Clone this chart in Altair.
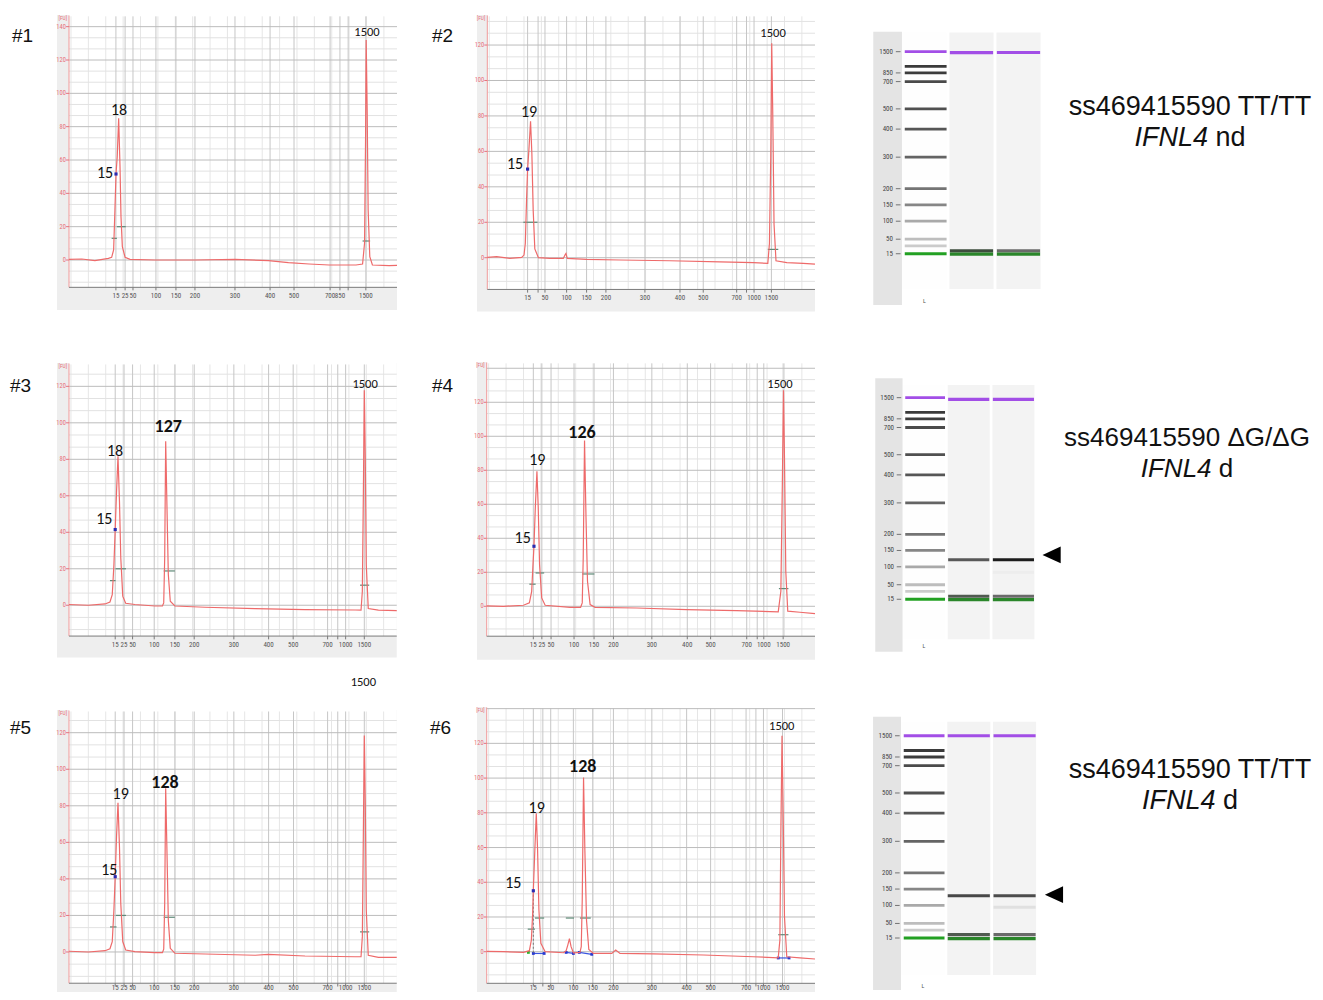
import altair as alt
import numpy as np
import pandas as pd

# ------------------------------------------------------------------
# Electropherogram traces: migration time (arbitrary units, 0-100 across
# the plot) and fluorescence [FU]
# ------------------------------------------------------------------
P1_TIME = [0, 3.9, 7.9, 12.0, 13.0, 13.6, 14.0, 14.33, 14.7, 15.14, 15.55, 15.85, 16.26, 17.1, 18.6, 26.2,
           38.4, 50.6, 60.8, 66.9, 73.2, 79.3, 87.5, 89.5, 90.1, 90.4, 90.6, 90.9, 91.2, 91.7, 92.5, 97.6, 100]
P1_FU = [0.4, 0.6, -0.4, 1.0, 1.6, 6, 30, 51.6, 62, 85, 56, 26, 8, 1.6, 0.4, 0,
         0, 0.4, -0.4, -1.6, -2.4, -3, -3, -2.4, 10, 70, 132, 90, 30, 2, -3, -3.4, -3.2]

P2_TIME = [0, 2.85, 6.9, 10.5, 11.2, 11.6, 12.0, 12.3, 12.7, 13.2, 13.6, 14.0, 14.5, 15.6, 19.1, 23.2, 23.7,
           24.0, 24.4, 30.3, 40.5, 55.7, 71.0, 81.2, 85.6, 86.1, 86.5, 86.8, 87.1, 87.5, 88.1, 91.4, 96.4, 100]
P2_FU = [0.2, 0.6, -0.4, 0.2, 1.5, 8, 34, 50, 61, 77, 59, 27, 5, 0, -0.4, -0.4, 1.5,
         2.4, -0.4, -0.9, -1.3, -1.7, -2.4, -2.8, -3.2, 8, 57, 121, 83, 19, -1.7, -2.8, -3.2, -3.6]

P3_TIME = [0, 5.9, 11.0, 12.5, 13.2, 13.7, 14.1, 14.5, 14.95, 15.4, 15.8, 16.4, 17.3, 20.1, 26.2, 28.5, 28.9,
           29.2, 29.5, 29.9, 30.3, 30.9, 32.3, 41.5, 56.8, 72.0, 87.3, 89.1, 89.5, 89.8, 90.1, 90.4, 90.7,
           91.3, 94.4, 100]
P3_FU = [0.4, 0, 0.7, 1.8, 5.8, 22, 41.5, 62, 81.6, 57, 26, 5, 1.1, 0.4, -0.4, -0.4, 1.3,
         26, 89.9, 53, 17, 2.2, -0.4, -1.1, -1.8, -2.4, -2.6, -2.7, 7.7, 58.8, 117.8, 80.7, 22.3,
         -1.8, -2.7, -2.9]

P4_TIME = [0, 5.1, 11.2, 13.0, 13.7, 14.1, 14.4, 14.8, 15.3, 15.7, 16.1, 16.75, 17.8, 25.4, 28.6, 29.1, 29.4,
           29.8, 30.25, 30.7, 31.5, 33.0, 45.7, 60.9, 76.1, 88.8, 89.6, 90.05, 90.4, 90.7, 91.1, 91.7, 95.4, 100]
P4_FU = [0.2, 0, 0.6, 2, 8.8, 24.5, 35.3, 57.8, 79.4, 57.8, 24.5, 4.9, 0.6, -0.6, -0.6, 2, 28.4,
         97.5, 52, 14.7, 1, -0.6, -1, -2, -2.5, -3.3, 8.8, 71.6, 127, 87.3, 20.6, -2.9, -3.5, -4.3]

P5_TIME = [0, 5.9, 11.0, 12.5, 13.2, 13.7, 14.1, 14.5, 14.95, 15.4, 15.8, 16.4, 17.3, 20.1, 26.2, 28.5, 28.9,
           29.2, 29.5, 29.9, 30.3, 30.9, 32.3, 41.5, 56.8, 60.8, 72.0, 87.3, 89.1, 89.5, 89.8, 90.1, 90.4,
           90.7, 91.3, 94.4, 100]
P5_FU = [0.4, 0, 0.7, 1.8, 5.7, 23, 41.2, 63, 81.7, 57.6, 26.6, 5.7, 1.1, 0.2, -0.4, -0.4, 1.5,
         26.6, 89.6, 54, 17.5, 2, -0.7, -1.1, -1.8, -1.3, -2.2, -2.6, -2.6, 8.4, 63, 118.4, 81.3,
         23, -1.8, -2.9, -2.9]

P6_TIME = [0, 5.1, 11.2, 13.0, 13.6, 14.0, 14.2, 14.7, 15.1, 15.5, 15.9, 16.5, 17.8, 23.4, 24.2, 24.7, 25.2,
           25.7, 26.4, 28.4, 28.8, 29.1, 29.5, 29.9, 30.4, 31.1, 32.5, 38.1, 39.3, 40.6, 50.8, 66.0, 81.2,
           88.8, 89.3, 89.6, 89.95, 90.25, 90.7, 91.4, 95.4, 100]
P6_FU = [0.2, 0, -0.4, 0.6, 6.7, 22, 35.1, 60.5, 79.7, 58.6, 24, 4.8, 0, -0.6, 0.6, 3.8, 7.5,
         2.9, -0.6, -0.4, 2.9, 29.8, 100.4, 58.6, 18.2, 1.3, -1, -1, 1, -1, -1.3, -1.9, -2.9,
         -3.5, 6.7, 68.2, 124.4, 87.4, 20.2, -2.9, -3.5, -4.2]

# x-axis size ticks (bp) at their migration times
P1_TICK_T = [14.3, 17.1, 19.5, 26.5, 32.6, 38.4, 50.6, 61.3, 68.6, 79.6, 82.6, 85.1, 90.5]
P1_TICK_LAB = ["15", "25", "50", "100", "150", "200", "300", "400", "500", "700", "850", "", "1500"]
P2_TICK_T = [12.3, 15.5, 17.6, 24.2, 30.3, 36.2, 48.1, 58.8, 65.9, 76.1, 79.1, 81.4, 86.7]
P2_TICK_LAB = ["15", "", "50", "100", "150", "200", "300", "400", "500", "700", "", "1000", "1500"]
P3_TICK_T = [14.1, 16.8, 19.4, 26.0, 32.3, 38.2, 50.3, 60.9, 68.4, 78.9, 82.0, 84.4, 90.1]
P3_TICK_LAB = ["15", "25", "50", "100", "150", "200", "300", "400", "500", "700", "", "1000", "1500"]
P4_TICK_T = [14.2, 16.8, 19.6, 26.6, 32.7, 38.6, 50.3, 61.1, 68.2, 79.2, 82.4, 84.4, 90.3]
P4_TICK_LAB = ["15", "25", "50", "100", "150", "200", "300", "400", "500", "700", "", "1000", "1500"]
P5_TICK_T = [14.1, 16.8, 19.4, 26.0, 32.3, 38.2, 50.3, 60.9, 68.5, 78.9, 82.0, 84.4, 90.1]
P5_TICK_LAB = ["15", "25", "50", "100", "150", "200", "300", "400", "500", "700", "", "1000", "1500"]
P6_TICK_T = [14.2, 17.1, 19.5, 26.4, 32.3, 38.6, 50.3, 60.9, 68.2, 79.0, 82.0, 84.3, 90.1]
P6_TICK_LAB = ["15", "", "50", "100", "150", "200", "300", "400", "500", "700", "", "1000", "1500"]

# peak annotations: text, time, FU, kind
P1_PEAK_TEXT = ["15", "18", "1500"]
P1_PEAK_T = [10.98, 15.24, 90.85]
P1_PEAK_FU = [52.2, 90.0, 136.8]
P1_PEAK_KIND = ["peak", "peak", "ref"]
P2_PEAK_TEXT = ["15", "19", "1500"]
P2_PEAK_T = [8.45, 12.73, 87.2]
P2_PEAK_FU = [52.9, 82.2, 126.8]
P2_PEAK_KIND = ["peak", "peak", "ref"]
P3_PEAK_TEXT = ["15", "18", "127", "1500"]
P3_PEAK_T = [10.77, 14.04, 30.3, 90.33]
P3_PEAK_FU = [47.3, 84.5, 97.7, 121.3]
P3_PEAK_KIND = ["peak", "peak", "bold", "ref"]
P4_PEAK_TEXT = ["15", "19", "126", "1500"]
P4_PEAK_T = [10.97, 15.41, 29.03, 89.34]
P4_PEAK_FU = [40.2, 85.9, 101.9, 130.8]
P4_PEAK_KIND = ["peak", "peak", "bold", "ref"]
P5_PEAK_TEXT = ["15", "19", "128", "1500"]
P5_PEAK_T = [12.3, 15.78, 29.3, 89.8]
P5_PEAK_FU = [44.9, 86.3, 92.3, 147.6]
P5_PEAK_KIND = ["peak", "peak", "bold", "ref"]
P6_PEAK_TEXT = ["15", "19", "128", "1500"]
P6_PEAK_T = [8.1, 15.23, 29.24, 89.86]
P6_PEAK_FU = [39.4, 82.6, 106.6, 130.2]
P6_PEAK_KIND = ["peak", "peak", "bold", "ref"]

# lower-marker (15 bp) points
MARKER_T = [14.33, 12.3, 14.1, 14.4, 14.1, 14.2]
MARKER_FU = [51.6, 50.0, 41.5, 35.3, 41.2, 35.1]

# peak-width (half height) bars: start, end, FU
P1_HALF = ([13.0, 14.6, 89.5], [14.6, 17.3, 91.8], [13, 20, 11.4])
P2_HALF = ([11.0, 85.6], [15.3, 88.8], [20, 4.7])
P3_HALF = ([12.5, 14.2, 28.9, 88.8], [14.2, 17.4, 32.3, 91.6], [13.5, 20, 18.8, 11])
P4_HALF = ([13.0, 14.9, 29.1, 89.0], [14.9, 17.5, 32.8, 91.9], [13, 19.6, 19, 10.4])
P5_HALF = ([12.5, 14.3, 28.9, 88.8], [14.5, 17.4, 32.3, 91.6], [13.7, 20, 19, 11])
P6_HALF = ([12.5, 14.7, 24.1, 28.4, 88.8], [14.7, 17.5, 26.6, 31.7, 91.9], [13, 19.4, 19.4, 19.4, 9.8])

# panel #6 integration baselines
P6_BASE_T0 = [14.2, 24.2, 28.2, 88.8]
P6_BASE_T1 = [17.5, 26.4, 32.0, 92.1]
P6_BASE_F0 = [-1.0, -0.4, -0.4, -3.6]
P6_BASE_F1 = [-1.0, -1.0, -1.5, -3.6]

# ------------------------------------------------------------------
# Gel images: ladder sizes and migration (0 = 1500 bp marker, 100 = 15 bp marker)
# ------------------------------------------------------------------
LADDER_SIZE = [1500, 1000, 850, 700, 500, 400, 300, 200, 150, 100, 50, 25, 15]
LADDER_MIGRATION = [0.0, 7.3, 10.5, 14.8, 28.3, 38.3, 52.2, 67.8, 75.8, 83.9, 92.8, 96.1, 100.0]
LADDER_TEXT = ["1500", "", "850", "700", "500", "400", "300", "200", "150", "100", "50", "", "15"]
LADDER_SHADE = ["#a24ee6", "#3a3a3a", "#3c3c3c", "#4a4a4a", "#505050", "#565656", "#646464",
                "#747474", "#868686", "#a9a9a9", "#bdbdbd", "#cbcbcb", "#22a022"]

G1_LANE = [2, 2, 2, 3, 3, 3]
G1_MIGRATION = [0.5, 98.6, 100.2, 0.4, 98.6, 100.2]
G1_SHADE = ["#a24ee6", "#3d4d3d", "#2a862a", "#a24ee6", "#6a6a6a", "#2a862a"]
G2_LANE = [2, 2, 2, 2, 3, 3, 3, 3, 3]
G2_MIGRATION = [0.8, 80.4, 98.5, 100.2, 0.8, 80.4, 86.6, 98.5, 100.2]
G2_SHADE = ["#a24ee6", "#585858", "#505a50", "#2a862a", "#a24ee6", "#1c1c1c", "#ededed", "#6a6a6a", "#2a862a"]
G3_LANE = [2, 2, 2, 2, 3, 3, 3, 3, 3]
G3_MIGRATION = [0.0, 79.1, 98.3, 100.3, 0.0, 79.1, 84.8, 98.3, 100.3]
G3_SHADE = ["#a24ee6", "#474747", "#505a50", "#2a862a", "#a24ee6", "#4c4c4c", "#e0e0e0", "#6a6a6a", "#2a862a"]

GENOTYPE = ["ss469415590 TT/TT", "ss469415590 \u0394G/\u0394G", "ss469415590 TT/TT"]
GENE = "IFNL4"
STATUS = ["nd", "d", "d"]

# ------------------------------------------------------------------
# styling / layout
# ------------------------------------------------------------------
TRACE = "#ee6a6a"
RED = "#e8707a"
NARROW = "Liberation Sans Narrow, Arial Narrow, Roboto Condensed, Liberation Sans"
LABF = "Carlito, Liberation Sans Narrow, Roboto"
SANS = "Liberation Sans, Arial"

COL_W = [394, 420, 230, 263]
ROW_H = [330, 330, 324]

PANELS = [
    dict(name="#1", time=P1_TIME, fu=P1_FU, tick_t=P1_TICK_T, tick_lab=P1_TICK_LAB,
         ptext=P1_PEAK_TEXT, pt=P1_PEAK_T, pf=P1_PEAK_FU, pk=P1_PEAK_KIND, half=P1_HALF,
         tdom=(-18.6, 101.52), fdom=(-46.8, 151.2), box_t0=-3.66, box_f0=-30.0, box_f1=147.0,
         xaxis=-16.4, ymax=140, lab=(4, 28), tdy=9),
    dict(name="#2", time=P2_TIME, fu=P2_FU, tick_t=P2_TICK_T, tick_lab=P2_TICK_LAB,
         ptext=P2_PEAK_TEXT, pt=P2_PEAK_T, pf=P2_PEAK_FU, pk=P2_PEAK_KIND, half=P2_HALF,
         tdom=(-26.03, 102.14), fdom=(-45.3, 140.9), box_t0=-3.14, box_f0=-30.3, box_f1=137.0,
         xaxis=-17.9, ymax=120, lab=(30, 28), tdy=9),
    dict(name="#3", time=P3_TIME, fu=P3_FU, tick_t=P3_TICK_T, tick_lab=P3_TICK_LAB,
         ptext=P3_PEAK_TEXT, pt=P3_PEAK_T, pf=P3_PEAK_FU, pk=P3_PEAK_KIND, half=P3_HALF,
         tdom=(-18.61, 101.6), fdom=(-34.4, 146.5), box_t0=-3.66, box_f0=-28.7, box_f1=132.8,
         xaxis=-16.9, ymax=120, lab=(2, 48), tdy=9),
    dict(name="#4", time=P4_TIME, fu=P4_FU, tick_t=P4_TICK_T, tick_lab=P4_TICK_LAB,
         ptext=P4_PEAK_TEXT, pt=P4_PEAK_T, pf=P4_PEAK_FU, pk=P4_PEAK_KIND, half=P4_HALF,
         tdom=(-25.8, 102.13), fdom=(-36.3, 157.8), box_t0=-2.95, box_f0=-31.4, box_f1=143.7,
         xaxis=-17.6, ymax=120, lab=(30, 48), tdy=9),
    dict(name="#5", time=P5_TIME, fu=P5_FU, tick_t=P5_TICK_T, tick_lab=P5_TICK_LAB,
         ptext=P5_PEAK_TEXT, pt=P5_PEAK_T, pf=P5_PEAK_FU, pk=P5_PEAK_KIND, half=P5_HALF,
         tdom=(-18.61, 101.6), fdom=(-21.9, 155.4), box_t0=-3.66, box_f0=-21.9, box_f1=132.4,
         xaxis=-17.1, ymax=120, lab=(2, 60), tdy=5),
    dict(name="#6", time=P6_TIME, fu=P6_FU, tick_t=P6_TICK_T, tick_lab=P6_TICK_LAB,
         ptext=P6_PEAK_TEXT, pt=P6_PEAK_T, pf=P6_PEAK_FU, pk=P6_PEAK_KIND, half=P6_HALF,
         tdom=(-25.8, 102.13), fdom=(-23.2, 163.4), box_t0=-2.95, box_f0=-23.2, box_f1=141.0,
         xaxis=-18.2, ymax=120, lab=(28, 60), tdy=5),
]

GELS = [
    dict(lane=G1_LANE, mig=G1_MIGRATION, shade=G1_SHADE, xdom=(-1.181, 3.713), ydom=(-21.63, 141.7),
         lanes=(-9.5, 117.5), strip=(-9.9, 125.4), ly=123.4, arrow=None),
    dict(lane=G2_LANE, mig=G2_MIGRATION, shade=G2_SHADE, xdom=(-1.282, 3.863), ydom=(-29.6, 134.1),
         lanes=(-6.3, 119.8), strip=(-9.6, 126.0), ly=123.2, arrow=(3.854, 78.0)),
    dict(lane=G3_LANE, mig=G3_MIGRATION, shade=G3_SHADE, xdom=(-1.205, 3.817), ydom=(-33.5, 126.7),
         lanes=(-6.9, 118.3), strip=(-9.4, 125.7), ly=123.7, arrow=(3.86, 78.6)),
]

TEXT_POS = [(138, 99), (135, 100), (138, 102)]
TEXT_SIZE = [27, 26, 27]


def ephero(idx, w, h):
    p = PANELS[idx]
    xs = alt.Scale(domain=list(p["tdom"]), nice=False, zero=False)
    ys = alt.Scale(domain=list(p["fdom"]), nice=False, zero=False)

    def X(f):
        return alt.X(f, type="quantitative", scale=xs, axis=None)

    def Y(f):
        return alt.Y(f, type="quantitative", scale=ys, axis=None)

    top = p["box_f1"] - 0.8
    xa = p["xaxis"]
    layers = []

    box = pd.DataFrame({"t0": [p["box_t0"]], "t1": [100.0], "f0": [p["box_f0"]], "f1": [p["box_f1"]]})
    layers.append(alt.Chart(box).mark_rect(color="#eeeeee").encode(x=X("t0"), x2="t1", y=Y("f0"), y2="f1"))
    area = pd.DataFrame({"t0": [0.0], "t1": [100.0], "f0": [xa], "f1": [p["box_f1"]]})
    layers.append(alt.Chart(area).mark_rect(color="#ffffff").encode(x=X("t0"), x2="t1", y=Y("f0"), y2="f1"))

    minor_h = [k * 20.0 / 3 for k in range(-3, 30) if k % 3 != 0 and xa < k * 20.0 / 3 < top]
    major_h = [v for v in range(0, 200, 20) if v < top]
    minor_v = [v for v in np.arange(0.6, 100, 5.3)]
    gh1 = pd.DataFrame({"f": minor_h, "t0": 0.0, "t1": 100.0})
    gh2 = pd.DataFrame({"f": major_h, "t0": 0.0, "t1": 100.0})
    gv1 = pd.DataFrame({"t": minor_v, "f0": xa, "f1": top})
    gv2 = pd.DataFrame({"t": p["tick_t"], "f0": xa, "f1": top})
    layers.append(alt.Chart(gv1).mark_rule(color="#e6e6e6", strokeWidth=1).encode(x=X("t"), y=Y("f0"), y2="f1"))
    layers.append(alt.Chart(gh1).mark_rule(color="#e2e2e2", strokeWidth=1).encode(x=X("t0"), x2="t1", y=Y("f")))
    layers.append(alt.Chart(gv2).mark_rule(color="#c6c6c6", strokeWidth=1).encode(x=X("t"), y=Y("f0"), y2="f1"))
    layers.append(alt.Chart(gh2).mark_rule(color="#bcbcbc", strokeWidth=1).encode(x=X("t0"), x2="t1", y=Y("f")))

    # axis lines
    ya = pd.DataFrame({"t": [0.0], "f0": [xa], "f1": [p["box_f1"] - 0.3]})
    layers.append(alt.Chart(ya).mark_rule(color="#f09a9a", strokeWidth=1).encode(x=X("t"), y=Y("f0"), y2="f1"))
    xl = pd.DataFrame({"t0": [0.0], "t1": [100.0], "f": [xa]})
    layers.append(alt.Chart(xl).mark_rule(color="#7a7a7a", strokeWidth=1).encode(x=X("t0"), x2="t1", y=Y("f")))

    # y ticks + labels
    yv = list(range(0, p["ymax"] + 1, 20))
    ydf = pd.DataFrame({"f": yv, "lab": [str(v) for v in yv], "t0": -0.9, "t1": 0.0})
    layers.append(alt.Chart(ydf).mark_rule(color=RED, strokeWidth=1).encode(x=X("t0"), x2="t1", y=Y("f")))
    layers.append(alt.Chart(ydf).mark_text(align="right", baseline="middle", dx=-3, fontSize=6.5,
                                           font=NARROW, color=RED)
                  .encode(x=X("t1"), y=Y("f"), text="lab:N"))
    fu_df = pd.DataFrame({"t": [-1.9], "f": [p["box_f1"]], "lab": ["[FU]"]})
    layers.append(alt.Chart(fu_df).mark_text(align="center", baseline="top", dy=1, fontSize=5.5,
                                             font=NARROW, color=RED)
                  .encode(x=X("t"), y=Y("f"), text="lab:N"))

    # x ticks + labels
    xdf = pd.DataFrame({"t": p["tick_t"], "lab": p["tick_lab"], "f0": xa, "f1": xa - 1.8})
    layers.append(alt.Chart(xdf).mark_rule(color="#7a7a7a", strokeWidth=1).encode(x=X("t"), y=Y("f0"), y2="f1"))
    layers.append(alt.Chart(xdf).mark_text(align="center", baseline="middle", dy=p["tdy"], fontSize=7,
                                           font=NARROW, color="#555555")
                  .encode(x=X("t"), y=Y("f0"), text="lab:N"))

    # half-height bars
    hd = pd.DataFrame({"t0": p["half"][0], "t1": p["half"][1], "f": p["half"][2]})
    layers.append(alt.Chart(hd).mark_rule(color="#5f8a78", strokeWidth=1.2).encode(x=X("t0"), x2="t1", y=Y("f")))

    if idx == 5:
        bd = pd.DataFrame({"t0": P6_BASE_T0, "t1": P6_BASE_T1, "f0": P6_BASE_F0, "f1": P6_BASE_F1})
        layers.append(alt.Chart(bd).mark_rule(color="#3a55e0", strokeWidth=1.2)
                      .encode(x=X("t0"), x2="t1", y=Y("f0"), y2="f1"))
        ends = pd.DataFrame({"t": P6_BASE_T0 + P6_BASE_T1, "f": P6_BASE_F0 + P6_BASE_F1})
        layers.append(alt.Chart(ends).mark_point(shape="square", filled=True, size=8, color="#2a3ad0", opacity=1)
                      .encode(x=X("t"), y=Y("f")))
        dv = pd.DataFrame({"t": [MARKER_T[5]], "f0": [MARKER_FU[5]], "f1": [-1.0]})
        layers.append(alt.Chart(dv).mark_rule(color="#777777", strokeWidth=1, strokeDash=[2, 2])
                      .encode(x=X("t"), y=Y("f0"), y2="f1"))
        gd = pd.DataFrame({"t": [12.7], "f": [-0.4]})
        layers.append(alt.Chart(gd).mark_point(shape="square", filled=True, size=8, color="#30b030", opacity=1)
                      .encode(x=X("t"), y=Y("f")))

    # trace
    tr = pd.DataFrame({"t": p["time"], "fu": p["fu"], "i": list(range(len(p["time"])))})
    layers.append(alt.Chart(tr).mark_line(color=TRACE, strokeWidth=1.2)
                  .encode(x=X("t"), y=Y("fu"), order="i:Q"))

    mk = pd.DataFrame({"t": [MARKER_T[idx]], "f": [MARKER_FU[idx]]})
    layers.append(alt.Chart(mk).mark_point(shape="square", filled=True, size=10, color="#2b2bb0", opacity=1)
                  .encode(x=X("t"), y=Y("f")))

    # peak labels
    pl = pd.DataFrame({"lab": p["ptext"], "t": p["pt"], "f": p["pf"], "kind": p["pk"]})
    for kind, size, weight in [("peak", 16, "normal"), ("bold", 18, "bold"), ("ref", 12.5, "normal")]:
        layers.append(alt.Chart(pl).transform_filter(alt.datum.kind == kind)
                      .mark_text(align="center", baseline="middle", fontSize=size, fontWeight=weight,
                                 font=LABF, color="#111111")
                      .encode(x=X("t"), y=Y("f"), text="lab:N"))

    nm = pd.DataFrame({"lab": [p["name"]]})
    layers.append(alt.Chart(nm).mark_text(align="left", baseline="middle", fontSize=19, font=SANS,
                                          color="#111111")
                  .encode(x=alt.value(p["lab"][0]), y=alt.value(p["lab"][1]), text="lab:N"))
    return alt.layer(*layers).properties(width=w, height=h)


def gel(idx, w, h):
    g = GELS[idx]
    xs = alt.Scale(domain=list(g["xdom"]), nice=False, zero=False)
    ys = alt.Scale(domain=list(g["ydom"]), nice=False, zero=False, reverse=True)

    def X(f):
        return alt.X(f, type="quantitative", scale=xs, axis=None)

    def Y(f):
        return alt.Y(f, type="quantitative", scale=ys, axis=None)

    layers = []
    strip = pd.DataFrame({"x0": [-0.09], "x1": [0.52], "y0": [g["strip"][0]], "y1": [g["strip"][1]]})
    layers.append(alt.Chart(strip).mark_rect(color="#e4e4e4").encode(x=X("x0"), x2="x1", y=Y("y0"), y2="y1"))
    lanes = pd.DataFrame({"c": [1, 2, 3], "fill": ["#fefefe", "#f3f3f3", "#f3f3f3"]})
    lanes["x0"] = lanes["c"] - 0.47
    lanes["x1"] = lanes["c"] + 0.47
    lanes["y0"] = g["lanes"][0]
    lanes["y1"] = g["lanes"][1]
    layers.append(alt.Chart(lanes).mark_rect().encode(x=X("x0"), x2="x1", y=Y("y0"), y2="y1",
                                                     color=alt.Color("fill:N", scale=None)))
    lad = pd.DataFrame({"size": LADDER_SIZE, "m": LADDER_MIGRATION, "lab": LADDER_TEXT, "shade": LADDER_SHADE})
    lad["x0"] = 0.58
    lad["x1"] = 1.47
    lad["d0"] = 0.39
    lad["d1"] = 0.49
    lad["lx"] = 0.33
    layers.append(alt.Chart(lad).mark_rule(strokeWidth=2.8).encode(x=X("x0"), x2="x1", y=Y("m"),
                                                                   color=alt.Color("shade:N", scale=None)))
    labd = lad[lad["lab"] != ""]
    layers.append(alt.Chart(labd).mark_rule(color="#555555", strokeWidth=0.8).encode(x=X("d0"), x2="d1", y=Y("m")))
    layers.append(alt.Chart(labd).mark_text(align="right", baseline="middle", fontSize=7, font=NARROW,
                                            color="#444444")
                  .encode(x=X("lx"), y=Y("m"), text="lab:N"))
    sb = pd.DataFrame({"lane": g["lane"], "m": g["mig"], "shade": g["shade"]})
    sb["x0"] = sb["lane"] - 0.46
    sb["x1"] = sb["lane"] + 0.46
    layers.append(alt.Chart(sb).mark_rule(strokeWidth=3.2).encode(x=X("x0"), x2="x1", y=Y("m"),
                                                                  color=alt.Color("shade:N", scale=None)))
    ll = pd.DataFrame({"x": [1.0], "y": [g["ly"]], "lab": ["L"]})
    layers.append(alt.Chart(ll).mark_text(fontSize=6, font=NARROW, color="#555555", baseline="middle")
                  .encode(x=X("x"), y=Y("y"), text="lab:N"))
    if g["arrow"] is not None:
        ar = pd.DataFrame({"x": [g["arrow"][0]], "y": [g["arrow"][1]]})
        layers.append(alt.Chart(ar).mark_point(shape="M 1 -0.92 L 1 0.92 L -1 0 Z", filled=True, size=330,
                                               color="#000000", opacity=1)
                      .encode(x=X("x"), y=Y("y")))
    return alt.layer(*layers).properties(width=w, height=h)


def textcell(idx, w, h):
    cx, cy = TEXT_POS[idx]
    fs = TEXT_SIZE[idx]
    gene_w = 2.723 * fs
    tail = STATUS[idx]
    tail_w = (0.278 + 0.556 * len(tail)) * fs
    left = cx - (gene_w + tail_w) / 2
    split = left + gene_w
    l1 = pd.DataFrame({"s": [GENOTYPE[idx]]})
    l2 = pd.DataFrame({"s": [GENE]})
    l3 = pd.DataFrame({"s": [tail]})
    a = alt.Chart(l1).mark_text(align="center", baseline="middle", fontSize=fs, font=SANS, color="#111111") \
        .encode(x=alt.value(cx), y=alt.value(cy), text="s:N")
    b = alt.Chart(l2).mark_text(align="right", baseline="middle", fontSize=fs, font=SANS, fontStyle="italic",
                                color="#111111") \
        .encode(x=alt.value(split), y=alt.value(cy + 31), text="s:N")
    c = alt.Chart(l3).mark_text(align="left", baseline="middle", fontSize=fs, font=SANS, color="#111111") \
        .encode(x=alt.value(split + 0.278 * fs), y=alt.value(cy + 31), text="s:N")
    return alt.layer(a, b, c).properties(width=w, height=h)


cells = []
for r in range(3):
    cells += [ephero(2 * r, COL_W[0], ROW_H[r]),
              ephero(2 * r + 1, COL_W[1], ROW_H[r]),
              gel(r, COL_W[2], ROW_H[r]),
              textcell(r, COL_W[3], ROW_H[r])]

chart = alt.concat(*cells, columns=4, spacing=0, bounds="flush").properties(
    padding=0, background="white"
).configure_view(stroke="transparent", strokeWidth=0).configure_concat(spacing=0)

chart.save("out.html", embed_options={"renderer": "svg", "actions": False})
